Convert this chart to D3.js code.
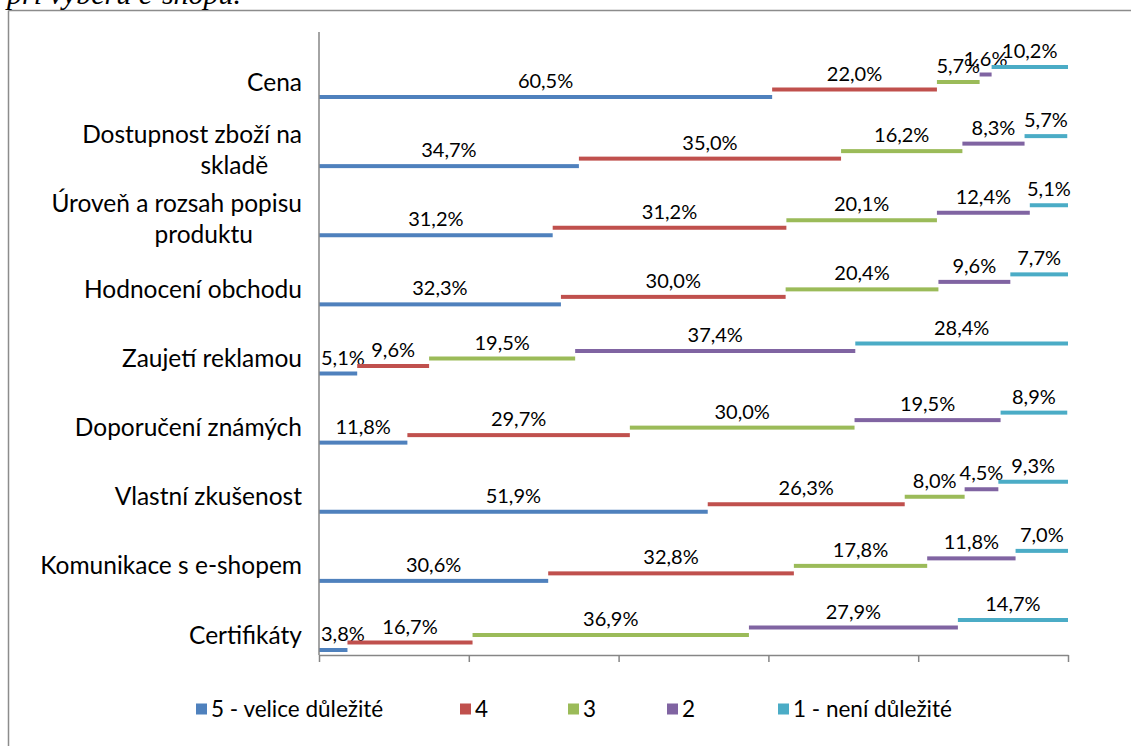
<!DOCTYPE html>
<html>
<head>
<meta charset="utf-8">
<script src="https://cdn.jsdelivr.net/npm/d3@7"></script>
<style>
  html, body { margin: 0; padding: 0; background: #fff; }
  svg { display: block; }
  text { font-family: Lato, "Open Sans", sans-serif; fill: #000; }
</style>
</head>
<body>
<svg id="chart" width="1131" height="746"></svg>
<script>
// Categories (top to bottom)
const categories = [
  "Cena",
  "Dostupnost zboží na skladě",
  "Úroveň a rozsah popisu produktu",
  "Hodnocení obchodu",
  "Zaujetí reklamou",
  "Doporučení známých",
  "Vlastní zkušenost",
  "Komunikace s e-shopem",
  "Certifikáty"
];

// Series names (importance ratings)
const seriesNames = ["5 - velice důležité", "4", "3", "2", "1 - není důležité"];
const seriesColors = ["#4F81BD", "#C0504D", "#9BBB59", "#8064A2", "#4BACC6"];

// Share of respondents (%) per category, one array per rating
const s5 = [60.5, 34.7, 31.2, 32.3, 5.1, 11.8, 51.9, 30.6, 3.8];
const s4 = [22.0, 35.0, 31.2, 30.0, 9.6, 29.7, 26.3, 32.8, 16.7];
const s3 = [5.7, 16.2, 20.1, 20.4, 19.5, 30.0, 8.0, 17.8, 36.9];
const s2 = [1.6, 8.3, 12.4, 9.6, 37.4, 19.5, 4.5, 11.8, 27.9];
const s1 = [10.2, 5.7, 5.1, 7.7, 28.4, 8.9, 9.3, 7.0, 14.7];
const seriesValues = [s5, s4, s3, s2, s1];

// Axis tick values (percent)
const xTicks = [0, 20, 40, 60, 80, 100];

const svg = d3.select("#chart");

// Outer frame (top and left edges visible)
svg.append("line").attr("x1", 8.5).attr("y1", 10.5).attr("x2", 1131).attr("y2", 10.5)
  .attr("stroke", "#8c8c8c").attr("stroke-width", 1.5);
svg.append("line").attr("x1", 8.5).attr("y1", 10.5).attr("x2", 8.5).attr("y2", 746)
  .attr("stroke", "#8c8c8c").attr("stroke-width", 1.5);

// Heading fragment above the frame
svg.append("text")
  .attr("x", 7).attr("y", 4)
  .style("font-family", "'Liberation Serif', 'Times New Roman', serif")
  .style("font-style", "italic")
  .style("font-size", "30px")
  .text("při výběru e-shopu.");

// Scales
const plotTop = 32, plotBottom = 655;
const x = d3.scaleLinear().domain([0, 100]).range([319, 1068]);
const y = d3.scalePoint().domain(categories).range([82, 635]);
const offset = d3.scalePoint().domain(d3.range(seriesNames.length)).range([15, -15]);

// Stack the series
const rows = categories.map((c, i) => {
  const r = { category: c };
  seriesValues.forEach((arr, k) => { r["s" + k] = arr[i]; });
  return r;
});
const keys = seriesNames.map((_, k) => "s" + k);
const stacked = d3.stack().keys(keys)(rows);

const barH = 4;
const g = svg.append("g");

stacked.forEach((layer, k) => {
  const lg = g.append("g");
  lg.selectAll("rect")
    .data(layer)
    .join("rect")
    .attr("x", d => x(d[0]))
    .attr("width", d => x(d[1]) - x(d[0]))
    .attr("y", d => y(d.data.category) + offset(k) - barH / 2)
    .attr("height", barH)
    .attr("fill", seriesColors[k]);

  lg.selectAll("text")
    .data(layer)
    .join("text")
    .attr("y", d => y(d.data.category) + offset(k) - 9)
    .attr("text-anchor", "middle")
    .style("font-size", "20px")
    .text(d => d3.format(".1f")(d[1] - d[0]).replace(".", ",") + "%")
    .attr("x", function (d) {
      // centre over the segment, but keep the label inside the plot area
      const cx = (x(d[0]) + x(d[1])) / 2;
      const half = this.getComputedTextLength() / 2;
      return Math.max(cx, x(0) + 2 + half);
    });
});

// Vertical category axis line
svg.append("line")
  .attr("x1", x(0)).attr("x2", x(0))
  .attr("y1", plotTop).attr("y2", plotBottom)
  .attr("stroke", "#868686").attr("stroke-width", 1.5);

// Horizontal value axis with tick marks, no labels
const xAxis = d3.axisBottom(x).tickValues(xTicks).tickFormat("").tickSize(7).tickSizeOuter(0);
const xg = svg.append("g").attr("transform", `translate(0,${plotBottom})`).call(xAxis);
xg.selectAll("path, line").attr("stroke", "#868686").attr("stroke-width", 1.5);

// Category labels, wrapped to two lines when too wide
const labelRight = 302;
const labelSize = 24.5;
const maxLabelW = 275;
const lg = svg.append("g").style("font-size", labelSize + "px");
categories.forEach(c => {
  const t = lg.append("text").attr("text-anchor", "end").attr("x", labelRight).text(c);
  const w = t.node().getComputedTextLength();
  if (w <= maxLabelW) {
    t.attr("y", y(c)).attr("dy", "0.35em");
    return;
  }
  const words = c.split(" ");
  const line1 = words.slice();
  const line2 = [];
  while (line1.length > 1) {
    t.text(line1.join(" "));
    if (t.node().getComputedTextLength() <= maxLabelW) break;
    line2.unshift(line1.pop());
  }
  t.text(line1.join(" ")).attr("y", y(c) - 16.5).attr("dy", "0.35em");
  const t2 = lg.append("text")
    .attr("text-anchor", "middle")
    .attr("y", y(c) + 14).attr("dy", "0.35em")
    .text(line2.join(" "));
  const w2 = t2.node().getComputedTextLength();
  t2.attr("x", labelRight - w2);
});

// Legend
const legendY = 709;
const legendX = [196, 460, 568, 667, 778];
const leg = svg.append("g").style("font-size", "22.5px");
seriesNames.forEach((n, k) => {
  leg.append("rect").attr("x", legendX[k]).attr("y", legendY - 5.5).attr("width", 11).attr("height", 11)
    .attr("fill", seriesColors[k]);
  leg.append("text").attr("x", legendX[k] + 15).attr("y", legendY).attr("dy", "0.35em").text(n);
});
</script>
</body>
</html>
